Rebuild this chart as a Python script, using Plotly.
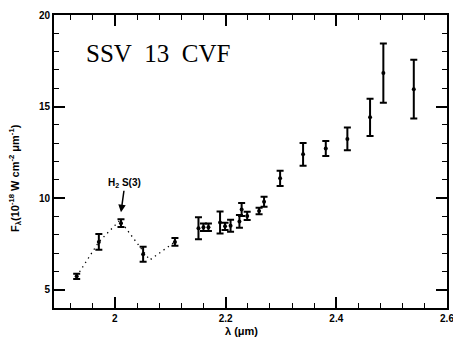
import plotly.graph_objects as go

# Data
wavelength = [1.931, 1.971, 2.011, 2.051, 2.1085, 2.151, 2.160, 2.169, 2.190, 2.199,
              2.209, 2.225, 2.229, 2.239, 2.2605, 2.2695, 2.2985, 2.340, 2.381, 2.420,
              2.461, 2.485, 2.540]
flux = [5.73, 7.61, 8.63, 6.94, 7.61, 8.36, 8.41, 8.41, 8.67, 8.46,
        8.49, 8.73, 9.38, 9.03, 9.30, 9.80, 11.08, 12.39, 12.71, 13.23,
        14.41, 16.83, 15.95]
flux_err = [0.14, 0.43, 0.21, 0.41, 0.21, 0.60, 0.20, 0.20, 0.60, 0.20,
            0.33, 0.35, 0.35, 0.22, 0.18, 0.27, 0.42, 0.62, 0.41, 0.62,
            1.02, 1.62, 1.60]

# Dotted model curve around the H2 S(3) line
model_wl = [1.931, 1.971, 2.009, 2.063, 2.1085]
model_flux = [5.73, 7.61, 8.79, 6.62, 7.61]

x_tickvals = [2.0, 2.2, 2.4, 2.6]
x_ticktext = ["2", "2.2", "2.4", "2.6"]
y_tickvals = [5, 10, 15, 20]
y_ticktext = ["5", "10", "15", "20"]

fig = go.Figure()
fig.add_trace(go.Scatter(
    x=model_wl, y=model_flux, mode="lines",
    line=dict(color="black", width=1.3, dash="1.3px,4px"),
    showlegend=False, hoverinfo="skip"))
fig.add_trace(go.Scatter(
    x=wavelength, y=flux, mode="markers",
    marker=dict(color="black", size=4),
    error_y=dict(type="data", array=flux_err, color="black", thickness=2, width=3.5),
    showlegend=False))

axis_common = dict(
    showgrid=False, zeroline=False, showline=True, linecolor="black", linewidth=2,
    mirror="allticks", ticks="inside", ticklen=11, tickwidth=1.6, tickcolor="black",
    automargin=False, ticklabeloverflow="allow",
    tickfont=dict(family="Liberation Sans", size=10, color="black", weight="bold"),
)

fig.update_xaxes(range=[1.89, 2.6], tickmode="array", tickvals=x_tickvals,
                 ticktext=x_ticktext,
                 minor=dict(tickmode="linear", tick0=2.0, dtick=0.04, ticks="inside",
                            ticklen=5, tickwidth=1.4, tickcolor="black"),
                 **axis_common)
fig.update_yaxes(range=[4, 20], tickmode="array", tickvals=y_tickvals,
                 ticktext=y_ticktext,
                 minor=dict(tickmode="linear", tick0=4, dtick=1, ticks="inside",
                            ticklen=5, tickwidth=1.4, tickcolor="black"),
                 **axis_common)

fig.add_annotation(
    x=2.011, y=9.23, xref="x", yref="y", ax=4, ay=-29,
    text="H<sub>2</sub> S(3)", showarrow=True, arrowhead=2, arrowsize=1,
    arrowwidth=1.5, arrowcolor="black",
    font=dict(family="Liberation Sans", size=10, color="black", weight="bold"))

W, H = 453, 338
L, R, T, B = 54, 6, 15, 30


def px_to_paper(xp, yp):
    return (xp - L) / (W - L - R), 1 - (yp - T) / (H - T - B)


def add_px_text(xp, yp, text, size, family="Liberation Sans", bold=True,
                angle=0, xanchor="center"):
    px, py = px_to_paper(xp, yp)
    fig.add_annotation(
        x=px, y=py, xref="paper", yref="paper", text=text, showarrow=False,
        textangle=angle, xanchor=xanchor, yanchor="middle",
        font=dict(family=family, size=size, color="black",
                  weight="bold" if bold else "normal"))


add_px_text(84, 54, "SSV\u00a0\u00a013\u00a0\u00a0CVF", 25,
            family="Liberation Serif", bold=False, xanchor="left")
add_px_text(15, 178, "F<sub>λ</sub>(10<sup>-18</sup> W cm<sup>-2</sup> μm<sup>-1</sup>)",
            11, angle=-90)
add_px_text(241, 331, "λ (μm)", 11)

fig.update_layout(
    width=W, height=H, margin=dict(l=L, r=R, t=T, b=B),
    paper_bgcolor="white", plot_bgcolor="white")

fig.write_html("out.html", config={"displayModeBar": False},
               post_script="document.body.style.margin='0';document.body.style.padding='0';")
